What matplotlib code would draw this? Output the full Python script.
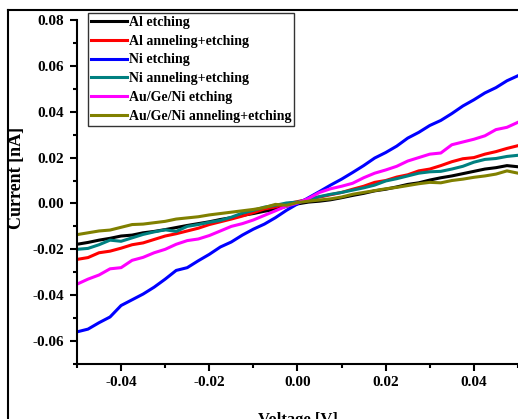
import numpy as np
import matplotlib.pyplot as plt
from matplotlib.lines import Line2D
from matplotlib.ticker import MultipleLocator

plt.rcParams['font.family'] = ['Liberation Serif', 'DejaVu Serif']
plt.rcParams['font.weight'] = 'bold'

# Voltage sweep [V]
voltage = np.linspace(-0.05, 0.05, 41)

# Current [nA]
al_etch = [-0.0178, -0.0170, -0.0160, -0.0152, -0.0142, -0.0138, -0.0128, -0.0122, -0.0114, -0.0105,
           -0.0096, -0.0088, -0.0080, -0.0070, -0.0062, -0.0052, -0.0044, -0.0034, -0.0026, -0.0012,
           -0.0002, 0.0006, 0.0010, 0.0016, 0.0025, 0.0035, 0.0044, 0.0055, 0.0062, 0.0072,
           0.0083, 0.0090, 0.0102, 0.0112, 0.0120, 0.0130, 0.0140, 0.0150, 0.0156, 0.0165, 0.0160]
al_anneal = [-0.0244, -0.0236, -0.0215, -0.0208, -0.0195, -0.0180, -0.0172, -0.0157, -0.0142, -0.0132,
             -0.0120, -0.0108, -0.0092, -0.0080, -0.0068, -0.0055, -0.0040, -0.0024, -0.0015, -0.0002,
             0.0008, 0.0018, 0.0028, 0.0038, 0.0048, 0.0062, 0.0075, 0.0092, 0.0100, 0.0115,
             0.0125, 0.0142, 0.0150, 0.0165, 0.0182, 0.0195, 0.0200, 0.0215, 0.0226, 0.0240, 0.0252]
ni_etch = [-0.0560, -0.0548, -0.0520, -0.0495, -0.0445, -0.0420, -0.0395, -0.0365, -0.0330, -0.0292,
           -0.0280, -0.0250, -0.0222, -0.0190, -0.0168, -0.0138, -0.0112, -0.0090, -0.0062, -0.0030,
           -0.0002, 0.0025, 0.0052, 0.0080, 0.0106, 0.0135, 0.0165, 0.0198, 0.0222, 0.0250,
           0.0285, 0.0310, 0.0340, 0.0362, 0.0392, 0.0425, 0.0452, 0.0482, 0.0505, 0.0535, 0.0557]
ni_anneal = [-0.0200, -0.0196, -0.0180, -0.0160, -0.0165, -0.0150, -0.0135, -0.0124, -0.0115, -0.0122,
             -0.0100, -0.0092, -0.0082, -0.0074, -0.0060, -0.0042, -0.0030, -0.0016, -0.0008, 0.0002,
             0.0006, 0.0018, 0.0030, 0.0040, 0.0048, 0.0058, 0.0068, 0.0080, 0.0098, 0.0108,
             0.0120, 0.0132, 0.0138, 0.0140, 0.0150, 0.0162, 0.0180, 0.0192, 0.0196, 0.0205, 0.0210]
augeni_etch = [-0.0352, -0.0330, -0.0312, -0.0285, -0.0280, -0.0248, -0.0235, -0.0215, -0.0200, -0.0178,
               -0.0162, -0.0155, -0.0140, -0.0120, -0.0100, -0.0088, -0.0072, -0.0052, -0.0032, -0.0012,
               0.0002, 0.0022, 0.0048, 0.0064, 0.0075, 0.0088, 0.0112, 0.0132, 0.0146, 0.0162,
               0.0185, 0.0200, 0.0215, 0.0220, 0.0256, 0.0268, 0.0280, 0.0295, 0.0322, 0.0332, 0.0354]
augeni_anneal = [-0.0136, -0.0128, -0.0120, -0.0116, -0.0104, -0.0092, -0.0090, -0.0084, -0.0078, -0.0068,
                 -0.0063, -0.0058, -0.0050, -0.0044, -0.0038, -0.0032, -0.0026, -0.0018, -0.0004, -0.0008,
                 0.0004, 0.0010, 0.0015, 0.0020, 0.0028, 0.0040, 0.0048, 0.0056, 0.0064, 0.0070,
                 0.0078, 0.0086, 0.0092, 0.0090, 0.0100, 0.0106, 0.0114, 0.0120, 0.0128, 0.0142, 0.0132]

labels = ['Al etching', 'Al anneling+etching', 'Ni etching', 'Ni anneling+etching',
          'Au/Ge/Ni etching', 'Au/Ge/Ni anneling+etching']
series = [al_etch, al_anneal, ni_etch, ni_anneal, augeni_etch, augeni_anneal]
colors = ['#000000', '#ff0000', '#0000ff', '#008080', '#ff00ff', '#808000']

fig = plt.figure(figsize=(5.18, 4.19), dpi=100)
ax = fig.add_axes([0.1486, 0.1313, 0.8514, 0.821])

for y, lab, c in zip(series, labels, colors):
    ax.plot(voltage, y, color=c, lw=2.2, label=lab)

ax.set_xlim(-0.05, 0.05)
ax.set_ylim(-0.07, 0.08)
ax.set_xticks([-0.04, -0.02, 0.0, 0.02, 0.04])
ax.set_yticks([-0.06, -0.04, -0.02, 0.0, 0.02, 0.04, 0.06, 0.08])
ax.xaxis.set_major_formatter(plt.FormatStrFormatter('%.2f'))
ax.yaxis.set_major_formatter(plt.FormatStrFormatter('%.2f'))
ax.xaxis.set_minor_locator(MultipleLocator(0.01))
ax.yaxis.set_minor_locator(MultipleLocator(0.01))
ax.tick_params(which='major', direction='out', length=5, width=1.5, labelsize=11, pad=4)
ax.tick_params(which='minor', direction='out', length=3, width=1.5)
for s in ['top', 'right']:
    ax.spines[s].set_visible(False)
for s in ['left', 'bottom']:
    ax.spines[s].set_linewidth(1.5)

ax.set_xlabel('Voltage [V]', fontsize=12, fontweight='bold', labelpad=16)
ax.set_ylabel('Current [nA]', fontsize=13, fontweight='bold')
ax.yaxis.set_label_coords(-0.118, 0.54)

leg = ax.legend(loc='upper left', bbox_to_anchor=(0.170, 0.969), bbox_transform=fig.transFigure,
                fontsize=10, frameon=True, fancybox=False, edgecolor='black', borderaxespad=0,
                borderpad=0.2, handlelength=2.6, handletextpad=0.15, labelspacing=0.42)
leg.get_frame().set_linewidth(1.0)

# outer frame of the figure
fx = 8 / 518
fy = 1 - 10 / 419
fig.add_artist(Line2D([fx, fx], [0, fy], transform=fig.transFigure, color='black', lw=1.5))
fig.add_artist(Line2D([fx, 1], [fy, fy], transform=fig.transFigure, color='black', lw=1.5))

fig.savefig('out.png', dpi=100)
